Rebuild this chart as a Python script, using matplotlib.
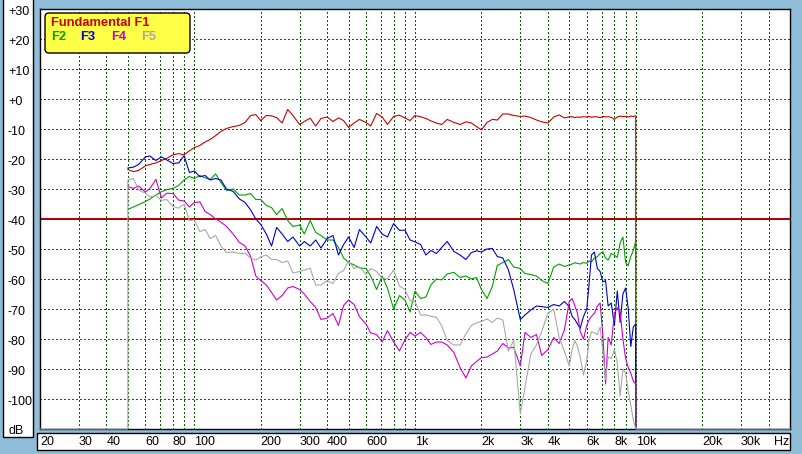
import matplotlib
matplotlib.use("Agg")
import matplotlib.pyplot as plt
from matplotlib import transforms
from matplotlib.patches import Rectangle, FancyBboxPatch

plt.rcParams['font.family'] = ['Liberation Sans', 'DejaVu Sans']

# ----------------------- DATA -----------------------
FREQ_HZ = [50, 53, 56, 60, 63, 67, 71, 75, 80, 85,
           90, 95, 100, 106, 112, 118, 125, 132, 140, 150,
           160, 170, 180, 190, 200, 212, 224, 236, 250, 265,
           280, 300, 315, 335, 355, 375, 400, 425, 450, 475,
           500, 530, 560, 600, 630, 670, 710, 750, 800, 850,
           900, 950, 1000, 1060, 1120, 1180, 1250, 1320, 1400, 1500,
           1600, 1700, 1800, 1900, 2000, 2120, 2240, 2360, 2500, 2650,
           2800, 3000, 3150, 3350, 3550, 3750, 4000, 4250, 4500, 4750,
           5000, 5150, 5300, 5450, 5600, 5800, 6000, 6150, 6300, 6500,
           6700, 6900, 7100, 7300, 7500, 7750, 8000, 8250, 8500, 8750,
           9000, 9250, 9500, 9750, 10000]

F1_DB = [-23.5, -24.2, -23.8, -22.3, -21.8, -21.3, -20.5, -19.8, -18.6, -18.2,
         -18.6, -17.3, -16.2, -15.5, -14.3, -13.5, -12.2, -10.8, -9.8, -9.2,
         -8.8, -7.8, -5.5, -5.2, -7.2, -5.5, -5.6, -6.2, -8.0, -3.5,
         -5.5, -8.5, -7.5, -6.4, -9.0, -6.5, -6.0, -7.5, -6.3, -7.2,
         -9.5, -8.0, -6.8, -7.8, -9.0, -4.8, -6.0, -8.5, -5.8, -5.4,
         -6.3, -7.2, -5.5, -5.9, -6.5, -7.3, -8.0, -8.5, -6.8, -7.8,
         -8.5, -7.6, -8.0, -9.2, -10.3, -7.8, -6.8, -7.0, -5.0, -5.0,
         -5.5, -5.8, -5.7, -6.2, -7.0, -7.6, -8.0, -6.0, -5.3, -6.3,
         -6.0, -5.9, -6.2, -6.0, -6.1, -5.9, -6.0, -5.8, -6.1, -5.9,
         -6.0, -6.2, -5.8, -6.0, -5.9, -6.1, -6.8, -6.0, -5.7, -5.9,
         -5.8, -6.0, -5.7, -5.8, -5.6]

F2_DB = [-36.8, -36.0, -35.2, -34.2, -33.3, -32.0, -30.9, -30.2, -29.8, -28.8,
         -27.0, -25.8, -26.5, -25.5, -26.3, -26.8, -25.0, -27.8, -30.5, -30.0,
         -32.0, -32.0, -31.5, -33.5, -33.5, -35.5, -36.2, -38.5, -36.5, -40.5,
         -42.5, -42.0, -45.0, -40.5, -44.5, -45.5, -47.0, -47.0, -49.5, -53.0,
         -54.5, -55.3, -56.3, -56.5, -59.0, -63.5, -59.0, -63.0, -70.0, -65.5,
         -67.0, -71.0, -64.0, -66.5, -66.0, -62.0, -60.0, -60.3, -58.3, -57.8,
         -59.5, -59.0, -60.0, -59.5, -63.5, -66.5, -62.5, -55.5, -54.5, -53.5,
         -56.0, -56.5, -58.2, -58.5, -59.0, -60.5, -61.5, -56.0, -55.0, -55.8,
         -55.3, -55.0, -54.6, -54.8, -55.0, -54.5, -54.8, -54.0, -54.3, -53.0,
         -52.6, -51.5, -50.9, -53.0, -53.7, -51.5, -52.0, -52.8, -48.0, -46.0,
         -54.5, -55.5, -52.5, -50.5, -47.5]

F3_DB = [-23.0, -22.7, -21.8, -19.3, -19.0, -20.5, -19.3, -20.3, -21.5, -21.3,
         -18.9, -24.5, -24.0, -25.9, -25.5, -27.0, -26.5, -27.0, -30.0, -30.8,
         -33.3, -34.5, -37.0, -40.0, -41.8, -45.0, -49.0, -42.8, -45.0, -47.5,
         -46.0, -49.0, -47.5, -49.0, -47.0, -49.7, -46.5, -45.5, -52.0, -48.5,
         -46.0, -49.5, -43.5, -46.0, -48.0, -42.5, -45.0, -46.0, -41.5, -43.8,
         -43.7, -47.0, -47.6, -48.5, -52.0, -50.5, -51.5, -49.5, -47.5, -50.8,
         -52.0, -53.5, -51.2, -50.6, -51.0, -50.0, -49.8, -52.5, -53.0, -57.0,
         -63.5, -73.5, -72.0, -70.3, -69.0, -69.2, -69.5, -68.5, -69.0, -67.5,
         -69.2, -72.5, -73.5, -75.0, -76.5, -72.5, -70.0, -61.5, -52.0, -51.0,
         -56.5, -57.5, -61.0, -60.5, -69.0, -68.0, -75.5, -64.0, -74.5, -65.0,
         -63.0, -70.0, -82.5, -76.0, -75.0]

F4_DB = [-29.2, -29.8, -29.0, -31.0, -29.8, -26.8, -33.0, -31.4, -31.5, -33.7,
         -34.0, -36.0, -34.5, -34.3, -37.5, -38.5, -40.0, -41.0, -42.5, -45.0,
         -47.8, -49.0, -52.5, -59.0, -60.5, -62.0, -64.5, -67.0, -65.5, -63.0,
         -62.5, -63.5, -65.0, -67.5, -69.5, -73.5, -73.0, -71.5, -75.5, -68.8,
         -67.0, -68.5, -72.5, -75.0, -78.0, -78.5, -81.0, -77.2, -81.0, -84.0,
         -80.3, -77.8, -79.0, -77.8, -79.5, -81.8, -81.0, -81.0, -82.0, -84.5,
         -89.5, -93.0, -89.0, -87.5, -86.2, -86.0, -85.0, -84.0, -81.5, -83.0,
         -82.8, -89.0, -77.8, -79.5, -78.5, -85.5, -83.5, -79.5, -81.5, -77.0,
         -67.5, -66.5, -69.0, -71.5, -77.5, -80.0, -75.5, -73.5, -72.5, -71.4,
         -69.0, -68.0, -79.0, -95.0, -79.5, -82.0, -71.5, -69.5, -71.0, -80.0,
         -86.5, -89.5, -91.4, -94.0, -95.0]

F5_DB = [-27.0, -26.5, -30.3, -31.4, -32.6, -32.2, -33.8, -33.5, -35.8, -36.4,
         -35.0, -40.5, -40.3, -44.2, -43.5, -46.5, -45.5, -49.0, -51.2, -51.0,
         -51.5, -51.4, -53.1, -53.7, -52.6, -52.0, -53.5, -53.5, -54.5, -54.0,
         -58.0, -57.5, -57.0, -56.4, -62.0, -62.0, -60.5, -61.5, -58.1, -57.2,
         -54.0, -56.5, -56.0, -58.5, -56.5, -57.5, -59.8, -60.0, -57.0, -62.3,
         -63.5, -67.2, -67.5, -72.0, -72.0, -72.4, -72.8, -75.5, -80.5, -82.0,
         -82.0, -78.3, -75.5, -74.6, -74.2, -73.3, -74.5, -73.0, -73.7, -84.0,
         -80.5, -105.0, -96.0, -85.0, -82.0, -77.5, -71.5, -70.0, -79.5, -84.0,
         -89.0, -83.5, -80.5, -82.5, -86.0, -92.0, -87.0, -80.5, -77.5, -78.0,
         -78.5, -76.0, -84.5, -93.5, -86.0, -86.5, -83.5, -88.0, -99.0, -90.0,
         -91.4, -97.5, -102.0, -107.0, -110.0]

FLOOR_DB = -110
X_LIMITS = [20, 50000]
Y_TICKS = [30, 20, 10, 0, -10, -20, -30, -40, -50, -60, -70, -80, -90, -100]
X_TICK_HZ = [20, 30, 40, 60, 80, 100, 200, 300, 400, 600,
             1000, 2000, 3000, 4000, 6000, 8000, 10000, 20000, 30000]
X_TICK_TXT = ["20", "30", "40", "60", "80", "100", "200", "300", "400", "600",
              "1k", "2k", "3k", "4k", "6k", "8k", "10k", "20k", "30k"]

SERIES = [("F1", F1_DB, "#c80000"), ("F2", F2_DB, "#00a000"), ("F3", F3_DB, "#0000d0"),
          ("F4", F4_DB, "#cc00cc"), ("F5", F5_DB, "#a8a8a8")]

# ----------------------- FIGURE -----------------------
W, H = 803, 454
BG = "#8fbcd6"
GRID_C = "#006800"

def px_box(x0, y0, x1, y1):
    # pixel box (top-left origin) -> figure fraction rect
    return [x0 / W, 1 - y1 / H, (x1 - x0) / W, (y1 - y0) / H]

fig = plt.figure(figsize=(W / 100, H / 100), dpi=100)
fig.patch.set_facecolor(BG)

# side panels for tick labels (behind the axes)
for box in [px_box(3, -5, 33, 437), px_box(37, 433, 790, 450)]:
    fig.add_artist(Rectangle((box[0], box[1]), box[2], box[3], transform=fig.transFigure,
                             facecolor="white", edgecolor="black", lw=1.0, zorder=-1))

ax = fig.add_axes(px_box(40, 9, 790, 429))
ax.set_facecolor("white")
ax.set_xscale("log")
ax.set_xlim(*X_LIMITS)
ax.set_ylim(FLOOR_DB, 30)
ax.tick_params(which="both", length=0, labelbottom=False, labelleft=False)
for sp in ax.spines.values():
    sp.set_color("black")
    sp.set_linewidth(1.0)

# dotted log grid, crisp like a GDI plot
grid_hz = [m * 10 ** e for e in range(1, 5) for m in range(1, 10)]
for f in grid_hz:
    if X_LIMITS[0] < f < X_LIMITS[1]:
        ax.axvline(f, color=GRID_C, lw=0.72, ls=(0, (1.4, 2.8)), zorder=1, antialiased=False)
for v in Y_TICKS:
    ax.axhline(v, color=GRID_C, lw=0.72, ls=(0, (1.4, 2.8)), zorder=1, antialiased=False)

# reference level line
ax.axhline(-40, color="#b40000", lw=1.4, zorder=2, antialiased=False)

# curves: F5 sits on the floor outside the measured band, all drop at the end
for name, vals, col in SERIES:
    xs = FREQ_HZ + [FREQ_HZ[-1]]
    ys = vals + [FLOOR_DB]
    clip = True
    if name == "F5":
        xs = [X_LIMITS[0], FREQ_HZ[0]] + xs + [X_LIMITS[1]]
        ys = [FLOOR_DB, FLOOR_DB] + ys + [FLOOR_DB]
        clip = False
    ax.plot(xs, ys, color=col, lw=0.8, zorder=3, clip_on=clip)

# y labels
ty = transforms.blended_transform_factory(fig.transFigure, ax.transData)
for v in Y_TICKS:
    lab = ("+%d" % v) if v >= 0 else ("%d" % v)
    ax.text(8 / W, v - 1.1, lab, transform=ty, ha="left", va="center",
            fontsize=9, clip_on=False)
fig.text(9 / W, 1 - 431 / H, "dB", ha="left", va="center", fontsize=9)

# x labels
tx = transforms.blended_transform_factory(ax.transData, fig.transFigure)
for f, lab in zip(X_TICK_HZ, X_TICK_TXT):
    ax.text(f, 1 - 442 / H, lab, transform=tx, ha="left", va="center",
            fontsize=9, clip_on=False)
ax.text(42500, 1 - 442 / H, "Hz", transform=tx, ha="left", va="center",
        fontsize=9, clip_on=False)

# legend box
leg = FancyBboxPatch((45, H - 53), 145, 40, boxstyle="round,pad=0,rounding_size=4",
                     transform=transforms.IdentityTransform(),
                     facecolor="#ffff48", edgecolor="black", lw=1.0, zorder=5)
fig.add_artist(leg)
fig.text(51 / W, 1 - 22.5 / H, "Fundamental F1", color="#c80000", weight="bold",
         fontsize=9.3, ha="left", va="center", zorder=6)
for (name, vals, col), xp in zip(SERIES[1:], [51, 80, 111, 141]):
    fig.text(xp / W, 1 - 37 / H, name, color=col, weight="bold",
             fontsize=9.3, ha="left", va="center", zorder=6)

fig.savefig("out.png", dpi=100, facecolor=fig.get_facecolor())
